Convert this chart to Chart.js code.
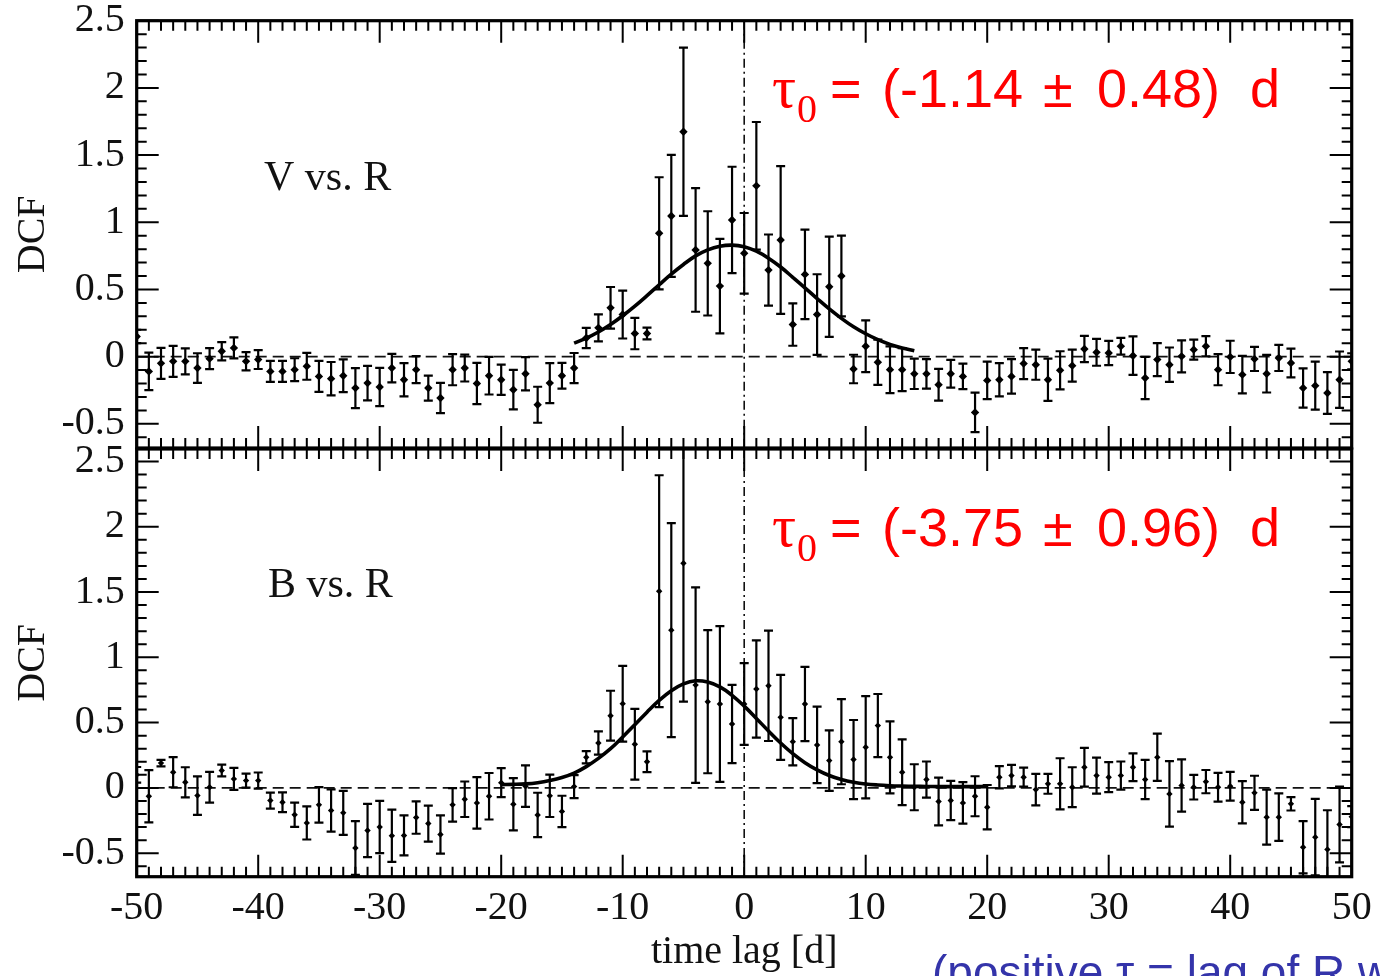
<!DOCTYPE html>
<html>
<head>
<meta charset="utf-8">
<title>DCF V vs. R / B vs. R</title>
<script src="https://cdn.jsdelivr.net/npm/chart.js@4.4.1/dist/chart.umd.min.js"></script>
<style>
  html, body { margin: 0; padding: 0; background: #fff; }
  #wrap { position: relative; width: 1381px; height: 976px; overflow: hidden; background: #fff; }
  #wrap canvas { position: absolute; left: 0; top: 0; }
</style>
</head>
<body>
<div id="wrap">
  <canvas id="vr" width="1381" height="976"></canvas>
  <canvas id="br" width="1381" height="976"></canvas>
</div>
<script>
// ---- data -------------------------------------------------------------
const LAG = [-50,-49,-48,-47,-46,-45,-44,-43,-42,-41,-40,-39,-38,-37,-36,-35,-34,-33,-32,-31,
  -30,-29,-28,-27,-26,-25,-24,-23,-22,-21,-20,-19,-18,-17,-16,-15,-14,-13,-12,-11,
  -10,-9,-8,-7,-6,-5,-4,-3,-2,-1,0,1,2,3,4,5,6,7,8,9,
  10,11,12,13,14,15,16,17,18,19,20,21,22,23,24,25,26,27,28,29,
  30,31,32,33,34,35,36,37,38,39,40,41,42,43,44,45,46,47,48,49,50];

// V vs. R : discrete correlation function and its errors
const VR_DCF = [0.15,-0.11,-0.05,-0.035,-0.035,-0.085,-0.015,0.04,0.065,-0.035,
  -0.022,-0.11,-0.11,-0.097,-0.072,-0.147,-0.164,-0.142,-0.234,-0.197,
  -0.226,-0.085,-0.172,-0.097,-0.234,-0.308,-0.097,-0.085,-0.2,-0.142,
  -0.172,-0.246,-0.127,-0.358,-0.197,-0.142,-0.085,0.139,0.214,0.363,
  0.313,0.172,0.172,0.918,1.047,1.674,0.794,0.694,0.525,1.017,
  0.769,1.271,0.644,0.868,0.239,0.612,0.313,0.52,0.6,-0.092,
  0.077,-0.042,-0.097,-0.097,-0.128,-0.128,-0.209,-0.127,-0.147,-0.415,
  -0.177,-0.172,-0.147,-0.052,-0.06,-0.172,-0.102,-0.067,0.057,0.032,
  0.027,0.077,0.007,-0.159,-0.022,-0.06,0.002,0.052,0.077,-0.097,
  -0.002,-0.134,-0.017,-0.127,-0.01,-0.047,-0.234,-0.216,-0.271,-0.172,-0.035];
const VR_ERR = [0.05,0.14,0.115,0.115,0.097,0.11,0.078,0.068,0.078,0.068,
  0.07,0.078,0.078,0.085,0.1,0.116,0.124,0.122,0.149,0.128,
  0.143,0.106,0.124,0.1,0.093,0.112,0.116,0.1,0.153,0.14,
  0.112,0.147,0.124,0.134,0.149,0.096,0.112,0.075,0.1,0.155,
  0.178,0.117,0.044,0.417,0.454,0.626,0.46,0.388,0.352,0.396,
  0.3,0.475,0.265,0.55,0.158,0.333,0.3,0.373,0.3,0.106,
  0.193,0.168,0.174,0.16,0.113,0.11,0.118,0.103,0.095,0.147,
  0.14,0.124,0.128,0.116,0.112,0.157,0.142,0.119,0.098,0.1,
  0.09,0.062,0.143,0.157,0.123,0.128,0.119,0.075,0.075,0.116,
  0.12,0.14,0.09,0.14,0.097,0.107,0.146,0.179,0.155,0.21,0.06];
// V vs. R : Gaussian fit curve
const VR_FIT_LAG = [-14,-13,-12,-11,-10,-9,-8,-7,-6,-5,-4,-3,-2,-1,0,1,2,3,4,5,6,7,8,9,10,11,12,13,14];
const VR_FIT = [0.10,0.137,0.183,0.239,0.304,0.376,0.454,0.535,0.614,0.686,0.75,0.795,0.822,0.83,
  0.818,0.785,0.733,0.667,0.59,0.512,0.432,0.355,0.285,0.222,0.17,0.126,0.091,0.064,0.044];

// B vs. R : discrete correlation function and its errors
const BR_DCF = [0.1,-0.064,0.19,0.12,0.043,-0.059,0.005,0.133,0.069,0.056,
  0.056,-0.097,-0.11,-0.206,-0.268,-0.13,-0.173,-0.191,-0.46,-0.326,
  -0.3,-0.367,-0.364,-0.227,-0.273,-0.357,-0.13,-0.087,-0.115,-0.064,
  0.04,-0.125,0.013,-0.207,-0.061,-0.18,0.01,0.234,0.344,0.553,
  0.645,0.334,0.2,1.506,1.208,1.72,0.787,0.66,0.642,0.489,
  0.642,0.757,0.782,0.54,0.354,0.642,0.329,0.209,0.354,0.217,
  0.311,0.477,0.234,0.12,0.005,0.064,-0.104,-0.097,-0.115,-0.064,
  -0.148,0.082,0.094,0.082,-0.013,0.031,0.031,0.005,0.158,0.094,
  0.082,0.094,0.158,0.064,0.234,-0.046,0.018,0.005,0.048,0.005,
  0.013,-0.11,-0.038,-0.224,-0.224,-0.122,-0.454,-0.377,-0.471,-0.28,-0.22];
const BR_ERR = [0.06,0.2,0.025,0.115,0.115,0.147,0.118,0.045,0.084,0.054,
  0.062,0.061,0.076,0.093,0.127,0.136,0.162,0.168,0.206,0.204,
  0.2,0.2,0.153,0.124,0.138,0.147,0.129,0.136,0.197,0.178,
  0.111,0.2,0.159,0.17,0.162,0.12,0.088,0.047,0.089,0.191,
  0.29,0.271,0.079,0.888,0.82,1.06,0.748,0.548,0.596,0.3,
  0.313,0.372,0.423,0.325,0.181,0.284,0.293,0.232,0.326,0.303,
  0.391,0.242,0.276,0.252,0.176,0.138,0.183,0.15,0.159,0.153,
  0.17,0.085,0.083,0.073,0.121,0.076,0.196,0.153,0.149,0.138,
  0.115,0.108,0.106,0.15,0.181,0.251,0.2,0.094,0.089,0.11,
  0.11,0.162,0.131,0.21,0.182,0.051,0.2,0.293,0.3,0.29,0.08];
// B vs. R : Gaussian fit curve
const BR_FIT_LAG = [-20,-19,-18,-17,-16,-15,-14,-13,-12,-11,-10,-9,-8,-7,-6,-5,-4,-3,-2,-1,
  0,1,2,3,4,5,6,7,8,9,10,11,12,13,14,15,16,17,18,19,20];
const BR_FIT = [0.025,0.027,0.031,0.04,0.056,0.079,0.113,0.163,0.226,0.30,
  0.39,0.484,0.58,0.67,0.744,0.796,0.82,0.81,0.773,0.709,
  0.626,0.532,0.436,0.344,0.262,0.193,0.138,0.095,0.065,0.044,
  0.03,0.022,0.017,0.014,0.012,0.011,0.01,0.01,0.01,0.01,0.01];

// axis ticks and labels
const X_TICKS = [-50,-40,-30,-20,-10,0,10,20,30,40,50];
const X_TICK_LABELS = ['-50','-40','-30','-20','-10','0','10','20','30','40','50'];
const Y_TICKS = [-0.5,0,0.5,1,1.5,2,2.5];
const Y_TICK_LABELS = ['-0.5','0','0.5','1','1.5','2','2.5'];

// ---- drawing helpers --------------------------------------------------
const SERIF = '"Liberation Serif", "Times New Roman", serif';
const SANS = '"Liberation Sans", Arial, Helvetica, sans-serif';

// labels may run past the plot box; keep the box where the layout puts it
const noOverflow = s => { s.paddingTop = 0; s.paddingBottom = 0; s.paddingLeft = 0; s.paddingRight = 0; };

// dashed zero line, dash-dot zero-lag line and error bars under the marks;
// boxed frame with inward ticks and annotations on top
const panelPlugin = {
  id: 'panel',
  beforeDatasetsDraw(chart, args, opts) {
    const { ctx, chartArea: a, scales: { x, y } } = chart;
    ctx.save();
    ctx.beginPath();
    ctx.rect(a.left, a.top, a.right - a.left, a.bottom - a.top);
    ctx.clip();
    ctx.strokeStyle = '#111';
    ctx.lineWidth = 1.6;
    ctx.setLineDash([11, 6]);
    const y0 = y.getPixelForValue(0);
    ctx.beginPath(); ctx.moveTo(a.left, y0); ctx.lineTo(a.right, y0); ctx.stroke();
    ctx.setLineDash([9, 4, 2, 4]);
    const x0 = x.getPixelForValue(0);
    ctx.beginPath(); ctx.moveTo(x0, a.top); ctx.lineTo(x0, a.bottom); ctx.stroke();
    ctx.setLineDash([]);

    const pts = chart.data.datasets[0].data;
    const err = opts.err;
    ctx.strokeStyle = '#000';
    ctx.lineWidth = 2.2;
    pts.forEach((p, i) => {
      const px = x.getPixelForValue(p.x);
      const yt = y.getPixelForValue(p.y + err[i]);
      const yb = y.getPixelForValue(p.y - err[i]);
      ctx.beginPath();
      ctx.moveTo(px, yt); ctx.lineTo(px, yb);
      ctx.moveTo(px - 4.5, yt); ctx.lineTo(px + 4.5, yt);
      ctx.moveTo(px - 4.5, yb); ctx.lineTo(px + 4.5, yb);
      ctx.stroke();
    });
    ctx.restore();
  },
  afterDraw(chart, args, opts) {
    const { ctx, chartArea: a, scales: { x, y } } = chart;
    ctx.save();
    ctx.strokeStyle = '#000';
    ctx.lineWidth = 2;
    ctx.beginPath();
    for (let v = Math.ceil(x.min); v <= Math.floor(x.max); v++) {
      const px = x.getPixelForValue(v);
      const L = v % 10 === 0 ? 22 : 10;
      ctx.moveTo(px, a.top); ctx.lineTo(px, a.top + L);
      ctx.moveTo(px, a.bottom); ctx.lineTo(px, a.bottom - L);
    }
    for (let k = Math.ceil(y.min * 10 - 1e-6); k <= Math.floor(y.max * 10 + 1e-6); k++) {
      const py = y.getPixelForValue(k / 10);
      const L = k % 5 === 0 ? 22 : 10;
      ctx.moveTo(a.left, py); ctx.lineTo(a.left + L, py);
      ctx.moveTo(a.right, py); ctx.lineTo(a.right - L, py);
    }
    ctx.stroke();
    ctx.lineWidth = 3.2;
    ctx.strokeRect(a.left, a.top, a.right - a.left, a.bottom - a.top);

    // annotations
    ctx.textBaseline = 'alphabetic';
    ctx.textAlign = 'left';
    ctx.fillStyle = '#111';
    ctx.font = '42px ' + SERIF;
    ctx.fillText(opts.label.text, opts.label.x, opts.label.y);

    const t = opts.tau;
    ctx.fillStyle = '#ff0000';
    ctx.font = '60px ' + SERIF;
    ctx.fillText('\u03C4', t.x, t.y);
    ctx.font = '40px ' + SERIF;
    ctx.fillText('0', t.x + 25, t.y + 15);
    ctx.font = '54px ' + SANS;
    t.parts.forEach(([s, dx]) => ctx.fillText(s, t.x + dx, t.y));

    if (opts.note) {
      ctx.fillStyle = opts.note.color;
      ctx.font = '46px ' + SANS;
      ctx.fillText(opts.note.text, opts.note.x, opts.note.y);
    }
    ctx.restore();
  }
};

function makePanel(canvasId, cfg) {
  const pts = LAG.map((l, i) => ({ x: l, y: cfg.dcf[i] }));
  const fit = cfg.fitLag.map((l, i) => ({ x: l, y: cfg.fit[i] }));
  return new Chart(document.getElementById(canvasId), {
    type: 'scatter',
    data: {
      datasets: [
        { data: pts, showLine: false, pointStyle: 'rectRot', pointRadius: cfg.markerSize,
          pointBackgroundColor: '#000', pointBorderColor: '#000', pointBorderWidth: 0 },
        { data: fit, showLine: true, borderColor: '#000', borderWidth: 3.6,
          pointRadius: 0, tension: 0.4, fill: false }
      ]
    },
    options: {
      responsive: false,
      animation: false,
      devicePixelRatio: 1,
      layout: { padding: { left: 0, right: 29.3, top: cfg.top, bottom: 0 } },
      plugins: {
        legend: { display: false },
        tooltip: { enabled: false },
        panel: { err: cfg.err, label: cfg.label, tau: cfg.tau, note: cfg.note }
      },
      scales: {
        x: {
          type: 'linear', min: -50, max: 50,
          grid: { display: false, drawTicks: false },
          border: { display: false },
          afterBuildTicks: s => { s.ticks = X_TICKS.map(v => ({ value: v })); },
          afterFit: s => { s.height = cfg.xAxisHeight; noOverflow(s); },
          ticks: {
            display: cfg.showX, autoSkip: false, maxRotation: 0, padding: 8,
            color: '#111', font: { family: SERIF, size: 40 },
            callback: v => X_TICK_LABELS[X_TICKS.indexOf(v)]
          },
          title: {
            display: cfg.showX, text: 'time lag [d]', color: '#111',
            font: { family: SERIF, size: 40 }, padding: { top: 0, bottom: 0 }
          }
        },
        y: {
          type: 'linear', min: -0.68, max: cfg.yMax,
          grid: { display: false, drawTicks: false },
          border: { display: false },
          afterBuildTicks: s => { s.ticks = Y_TICKS.map(v => ({ value: v })); },
          afterFit: s => { s.width = 136.7; noOverflow(s); },
          ticks: {
            autoSkip: false, padding: 12, color: '#111',
            font: { family: SERIF, size: 40 },
            callback: v => Y_TICK_LABELS[Y_TICKS.indexOf(v)]
          },
          title: {
            display: true, text: 'DCF', color: '#111',
            font: { family: SERIF, size: 40 }, padding: { top: 9, bottom: 0 }
          }
        }
      }
    },
    plugins: [panelPlugin]
  });
}

const tauParts = v => [['=', 58], [v[0], 110], ['\u00B1', 271], [v[1], 325], ['d', 478]];

makePanel('vr', {
  dcf: VR_DCF, err: VR_ERR, fitLag: VR_FIT_LAG, fit: VR_FIT,
  top: 20.7, xAxisHeight: 976 - 448, yMax: 2.5, showX: false, markerSize: 4.2,
  label: { text: 'V vs. R', x: 264, y: 190 },
  tau: { x: 772, y: 107, parts: tauParts(['(-1.14', '0.48)']) },
  note: null
});

makePanel('br', {
  dcf: BR_DCF, err: BR_ERR, fitLag: BR_FIT_LAG, fit: BR_FIT,
  top: 449, xAxisHeight: 976 - 876.7, yMax: 2.595, showX: true, markerSize: 3.2,
  label: { text: 'B vs. R', x: 268, y: 597 },
  tau: { x: 772, y: 546, parts: tauParts(['(-3.75', '0.96)']) },
  note: { text: '(positive \u03C4 = lag of R w.r.t. V and B)', x: 932, y: 988, color: '#3434aa' }
});
</script>
</body>
</html>
